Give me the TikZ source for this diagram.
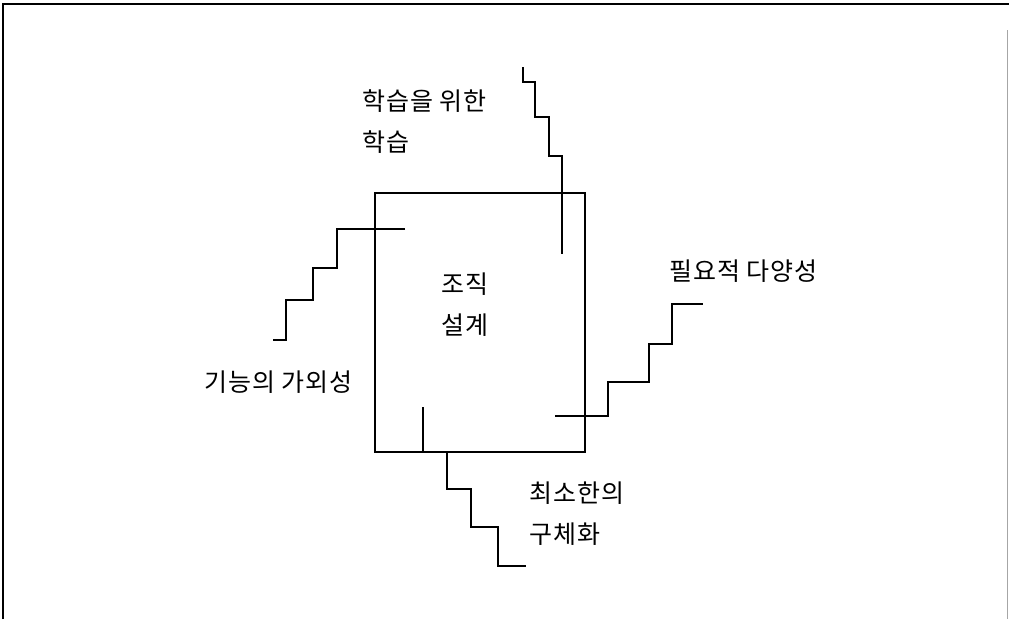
\documentclass[tikz,border=0pt]{standalone}
\usepackage{fontspec}
\newfontfamily\kr{Noto Sans CJK KR}[LetterSpace=4]
\begin{document}
\begin{tikzpicture}[x=1pt,y=-1pt,
  lbl/.style={font=\kr\fontsize{25}{30}\selectfont, inner sep=0pt, anchor=west},
  stair/.style={line width=1.5pt, line join=miter},
  frame/.style={line width=2pt},
  boxst/.style={draw, line width=2pt, minimum width=210pt, minimum height=259pt, inner sep=0pt}]
\useasboundingbox (0,0) rectangle (1009,619);
% outer frame
\draw[frame] (3,619) -- (3,4) -- (1009,4);
\draw[line width=0.8pt, black!35] (1007,30) -- (1007,619);
% central box
\node[boxst] (org) at (480,322.5) {};
\node[lbl] (t1) at (441,284) {조직};
\node[lbl] (t2) at (441,325) {설계};
% stairs
\coordinate (lA) at (405,229);
\draw[stair] (lA) -- (337,229) -- (337,268) -- (313,268) -- (313,300) -- (286,300) -- (286,340) -- (273,340);
\coordinate (tA) at (523,67);
\draw[stair] (tA) -- (523,82) -- (535,82) -- (535,117) -- (549,117) -- (549,156) -- (562,156) -- (562,254);
\coordinate (rA) at (555,416);
\draw[stair] (rA) -- (608,416) -- (608,382) -- (649,382) -- (649,344) -- (672,344) -- (672,304) -- (703,304);
\coordinate (bA) at (423,407);
\draw[stair] (bA) -- (423,452);
\coordinate (bB) at (447,452);
\draw[stair] (bB) -- (447,489) -- (471,489) -- (471,527) -- (498,527) -- (498,566) -- (526,566);
% labels
\node[lbl] (l1) at (362,101) {학습을 위한};
\node[lbl] (l2) at (362,142) {학습};
\node[lbl] (l3) at (669,271) {필요적 다양성};
\node[lbl] (l4) at (204,382) {기능의 가외성};
\node[lbl] (l5) at (529,493) {최소한의};
\node[lbl] (l6) at (529,534) {구체화};
\end{tikzpicture}
\end{document}
